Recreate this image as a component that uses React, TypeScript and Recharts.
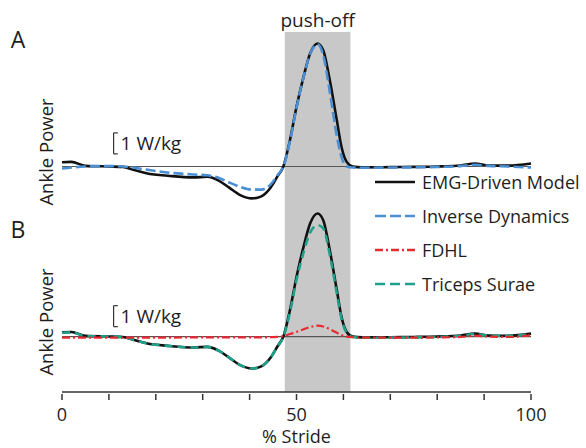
import { LineChart, Line, XAxis, YAxis, ReferenceArea, ReferenceLine } from "recharts";

// % stride sample points
const stride = [0, 2, 5, 10, 13, 15, 18, 23, 28, 31, 33.5, 35.5, 38, 40.5, 42.5, 44.5, 46, 47.2, 48.6, 50, 51.5, 52.9, 54.5, 55.7, 57.1, 58.6, 59.6, 60.7, 62, 64, 70, 75, 80, 85, 88, 91, 95, 100];

// ankle power, W/kg
const emgDriven = [0.2, 0.22, 0.03, 0.0, -0.02, -0.14, -0.32, -0.45, -0.52, -0.49, -0.68, -0.98, -1.36, -1.52, -1.42, -1.0, -0.45, 0.0, 1.25, 2.84, 4.27, 5.38, 5.86, 5.54, 4.11, 2.2, 0.93, 0.22, 0.0, -0.04, -0.03, -0.02, 0.0, 0.05, 0.14, 0.05, 0.04, 0.14];
const inverseDynamics = [-0.1, -0.05, 0.0, 0.02, 0.0, -0.05, -0.15, -0.3, -0.38, -0.42, -0.55, -0.75, -0.97, -1.1, -1.1, -0.85, -0.4, 0.0, 1.2, 2.8, 4.25, 5.35, 5.82, 5.3, 3.55, 1.45, 0.45, 0.0, -0.05, -0.06, -0.05, -0.04, -0.02, 0.02, 0.08, 0.03, 0.0, -0.05];
const fdhl = [-0.05, -0.05, -0.05, -0.05, -0.05, -0.05, -0.05, -0.05, -0.04, -0.04, -0.04, -0.04, -0.04, -0.04, -0.04, -0.03, -0.02, 0.02, 0.12, 0.22, 0.35, 0.45, 0.52, 0.48, 0.35, 0.18, 0.06, 0.0, -0.03, -0.05, -0.05, -0.05, -0.04, -0.02, 0.04, 0.0, -0.02, 0.06];
const tricepsSurae = [0.18, 0.2, 0.03, 0.0, -0.02, -0.14, -0.32, -0.45, -0.52, -0.49, -0.68, -0.98, -1.36, -1.52, -1.42, -1.0, -0.45, -0.02, 1.15, 2.7, 4.0, 4.95, 5.3, 5.15, 3.9, 2.05, 0.85, 0.18, -0.02, -0.06, -0.05, -0.04, -0.02, 0.03, 0.12, 0.04, 0.03, 0.1];

const xTicks = [0, 10, 20, 30, 40, 50, 60, 70, 80, 90, 100];
const xTickLabels = ["0", "", "", "", "", "50", "", "", "", "", "100"];
const pushOff = [47.5, 61.5];
const seriesNames = ["EMG-Driven Model", "Inverse Dynamics", "FDHL", "Triceps Surae"];
// 1 W/kg scale bars [bottom, top] for panel A and B
const scaleBarA = [0.6, 1.6];
const scaleBarB = [0.47, 1.47];
// y ranges (W/kg): panel A overlay, panel B runs down to the stride axis and up to the band top
const domainA = [-2.5, 6.5];
const domainB = [-2.64, 14.5];

const FONT = '"Open Sans", "Liberation Sans", sans-serif';
const BLACK = "#111";
const BLUE = "#4a8fd4";
const RED = "#e52b2f";
const TEAL = "#1fa08a";
const TEXT = "#1e1e1e";

const rows = stride.map((s, i) => ({
  s,
  emg: emgDriven[i],
  id: inverseDynamics[i],
  fdhl: fdhl[i],
  ts: tricepsSurae[i],
}));

const legendItems = [
  { name: seriesNames[0], color: BLACK, dash: undefined },
  { name: seriesNames[1], color: BLUE, dash: "11 4" },
  { name: seriesNames[2], color: RED, dash: "8 3 2 3" },
  { name: seriesNames[3], color: TEAL, dash: "10 5" },
];

const LegendBox = () => (
  <div style={{ position: "absolute", left: 372, top: 165, width: 214, fontFamily: FONT, fontSize: 18, color: TEXT }}>
    {legendItems.map((it) => (
      <div key={it.name} style={{ display: "flex", alignItems: "center", height: 34 }}>
        <svg width={50} height={34} style={{ flex: "none" }}>
          <line x1={3} x2={43} y1={17} y2={17} stroke={it.color} strokeWidth={2.5} strokeDasharray={it.dash} />
        </svg>
        <span style={{ whiteSpace: "nowrap" }}>{it.name}</span>
      </div>
    ))}
  </div>
);

// ticks point up into the plot, labels below the axis
const StrideTick = (props: any) => {
  const { x, y, index } = props;
  return (
    <g>
      <line x1={x} x2={x} y1={y} y2={y - 6} stroke="#333" strokeWidth={1.5} />
      <text x={x} y={y + 21} textAnchor="middle" fontSize={18} fill={TEXT} fontFamily={FONT}>
        {xTickLabels[index] ?? ""}
      </text>
    </g>
  );
};

const ScaleBar = ({ bar }: { bar: number[] }) => (
  <>
    <ReferenceLine
      segment={[{ x: 11, y: bar[0] }, { x: 11, y: bar[1] }]}
      stroke="#333"
      strokeWidth={1.2}
      ifOverflow="visible"
      label={{ value: "1 W/kg", position: "right", offset: 7, fill: TEXT, fontSize: 19, fontFamily: FONT }}
    />
    <ReferenceLine segment={[{ x: 11, y: bar[1] }, { x: 11.9, y: bar[1] }]} stroke="#333" strokeWidth={1.2} ifOverflow="visible" />
    <ReferenceLine segment={[{ x: 11, y: bar[0] }, { x: 11.9, y: bar[0] }]} stroke="#333" strokeWidth={1.2} ifOverflow="visible" />
  </>
);

const W = 586;
const H = 448;
const layer: React.CSSProperties = { position: "absolute", left: 0, top: 0 };

export default function App() {
  return (
    <div style={{ position: "absolute", left: 0, top: 0, width: W, height: H, background: "#fff", fontFamily: FONT, overflow: "hidden" }}>
      {/* panel B, with the push-off band and the stride axis */}
      <div style={layer}>
        <LineChart width={W} height={H} data={rows} margin={{ top: 32, right: 55, bottom: 0, left: 62 }}>
          <XAxis
            dataKey="s"
            type="number"
            domain={[0, 100]}
            ticks={xTicks}
            interval={0}
            height={56}
            tickLine={false}
            tick={<StrideTick />}
            axisLine={{ stroke: "#333", strokeWidth: 1.5 }}
            label={{ value: "% Stride", position: "insideBottom", offset: 5, fill: TEXT, fontSize: 18, fontFamily: FONT }}
          />
          <YAxis hide domain={domainB} allowDataOverflow />
          <ReferenceArea
            x1={pushOff[0]}
            x2={pushOff[1]}
            fill="#c8c8c8"
            fillOpacity={1}
            stroke="none"
            label={{ value: "push-off", position: "top", offset: 5, fill: TEXT, fontSize: 19, fontFamily: FONT }}
          />
          <ReferenceLine y={0} stroke="#555" strokeWidth={1.2} />
          {ScaleBar({ bar: scaleBarB })}
          <Line type="monotone" dataKey="emg" name={seriesNames[0]} stroke={BLACK} strokeWidth={2.6} dot={false} isAnimationActive={false} />
          <Line type="monotone" dataKey="ts" name={seriesNames[3]} stroke={TEAL} strokeWidth={2.6} strokeDasharray="8 5" dot={false} isAnimationActive={false} />
          <Line type="monotone" dataKey="fdhl" name={seriesNames[2]} stroke={RED} strokeWidth={2.2} strokeDasharray="8 3 2 3" dot={false} isAnimationActive={false} />
        </LineChart>
      </div>

      {/* panel A overlay */}
      <div style={layer}>
        <LineChart width={W} height={H} data={rows} margin={{ top: 30, right: 55, bottom: 229, left: 62 }}>
          <XAxis dataKey="s" type="number" domain={[0, 100]} hide />
          <YAxis hide domain={domainA} allowDataOverflow />
          <ReferenceLine y={0} stroke="#555" strokeWidth={1.2} />
          {ScaleBar({ bar: scaleBarA })}
          <Line type="monotone" dataKey="emg" name={seriesNames[0]} stroke={BLACK} strokeWidth={2.6} dot={false} isAnimationActive={false} />
          <Line type="monotone" dataKey="id" name={seriesNames[1]} stroke={BLUE} strokeWidth={2.6} strokeDasharray="10 4" dot={false} isAnimationActive={false} />
        </LineChart>
      </div>

      <LegendBox />

      {/* panel letters and y titles */}
      <svg width={W} height={H} style={{ ...layer, pointerEvents: "none" }}>
        <text x={18} y={48} textAnchor="middle" fontSize={23} fill={TEXT} fontFamily={FONT}>A</text>
        <text x={18} y={238} textAnchor="middle" fontSize={23} fill={TEXT} fontFamily={FONT}>B</text>
        <text transform="translate(53,152) rotate(-90)" textAnchor="middle" fontSize={18.5} fill={TEXT} fontFamily={FONT}>Ankle Power</text>
        <text transform="translate(53,322) rotate(-90)" textAnchor="middle" fontSize={18.5} fill={TEXT} fontFamily={FONT}>Ankle Power</text>
      </svg>
    </div>
  );
}
